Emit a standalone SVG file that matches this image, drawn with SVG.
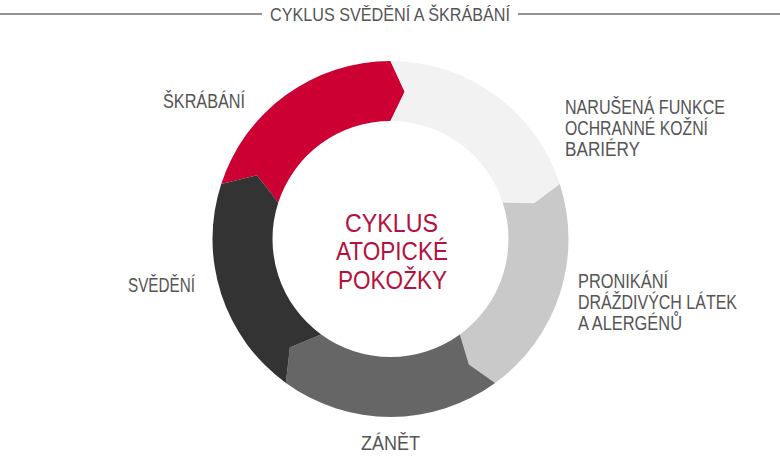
<svg xmlns="http://www.w3.org/2000/svg" width="780" height="458" viewBox="0 0 780 458">
  <style>
    .t { font-family: "Liberation Sans Narrow", "Liberation Sans", Arial, sans-serif; fill: #555555; font-size: 20px; }
    .title { font-size: 18px; fill: #555555; }
    .center { font-size: 26px; fill: #B3113E; }
    .rule { stroke: #6e6e6e; stroke-width: 1.5; }
  </style>
  <rect width="780" height="458" fill="#ffffff"/>
  <g id="title">
    <line class="rule" x1="0" y1="14" x2="262" y2="14"/>
    <line class="rule" x1="518" y1="14" x2="780" y2="14"/>
    <text class="t title" x="270" y="21" textLength="240" lengthAdjust="spacingAndGlyphs">CYKLUS SVĚDĚNÍ A ŠKRÁBÁNÍ</text>
  </g>
  <g id="seg-skrabani">
    <path fill="#CC0033" d="M 221.21,183.99 A 178 178 0 0 1 390.5,61 L 404.69,91.68 L 390.5,121 A 118 118 0 0 0 278.28,202.54 L 256.92,175.28 Z"/>
    <text class="t" x="163" y="108" textLength="82" lengthAdjust="spacingAndGlyphs">ŠKRÁBÁNÍ</text>
  </g>
  <g id="seg-bariera">
    <path fill="#F2F2F2" d="M 390.5,61 A 178 178 0 0 1 559.79,183.99 L 534.1,203.2 L 502.72,202.54 A 118 118 0 0 0 390.5,121 L 404.69,91.68 Z"/>
    <text class="t" x="565" y="114" textLength="160" lengthAdjust="spacingAndGlyphs">NARUŠENÁ FUNKCE</text>
    <text class="t" x="565" y="135" textLength="143" lengthAdjust="spacingAndGlyphs">OCHRANNÉ KOŽNÍ</text>
    <text class="t" x="565" y="156" textLength="75" lengthAdjust="spacingAndGlyphs">BARIÉRY</text>
  </g>
  <g id="seg-pronikani">
    <path fill="#C9C9C9" d="M 559.79,183.99 A 178 178 0 0 1 495.13,383.01 L 468.9,364.5 L 459.86,334.46 A 118 118 0 0 0 502.72,202.54 L 534.1,203.2 Z"/>
    <text class="t" x="578" y="288" textLength="90" lengthAdjust="spacingAndGlyphs">PRONIKÁNÍ</text>
    <text class="t" x="578" y="309" textLength="159" lengthAdjust="spacingAndGlyphs">DRÁŽDIVÝCH LÁTEK</text>
    <text class="t" x="578" y="330" textLength="104" lengthAdjust="spacingAndGlyphs">A ALERGÉNŮ</text>
  </g>
  <g id="seg-zanet">
    <path fill="#666666" d="M 495.13,383.01 A 178 178 0 0 1 285.87,383.01 L 289.88,347.53 L 321.14,334.46 A 118 118 0 0 0 459.86,334.46 L 468.9,364.5 Z"/>
    <text class="t" x="361" y="450" textLength="59" lengthAdjust="spacingAndGlyphs">ZÁNĚT</text>
  </g>
  <g id="seg-svedeni">
    <path fill="#333333" d="M 285.87,383.01 A 178 178 0 0 1 221.21,183.99 L 256.92,175.28 L 278.28,202.54 A 118 118 0 0 0 321.14,334.46 L 289.88,347.53 Z"/>
    <text class="t" x="128" y="292" textLength="67" lengthAdjust="spacingAndGlyphs">SVĚDĚNÍ</text>
  </g>
  <g id="center">
    <text class="t center" x="345" y="232" textLength="93" lengthAdjust="spacingAndGlyphs">CYKLUS</text>
    <text class="t center" x="336" y="260" textLength="112" lengthAdjust="spacingAndGlyphs">ATOPICKÉ</text>
    <text class="t center" x="338" y="289" textLength="109" lengthAdjust="spacingAndGlyphs">POKOŽKY</text>
  </g>
  <g id="connectors"/>
</svg>
